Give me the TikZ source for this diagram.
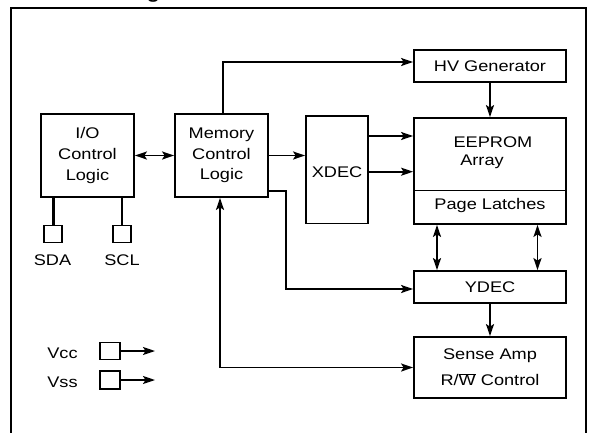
\documentclass[tikz,border=0pt]{standalone}
\usepackage{fontspec}
\setmainfont[FakeStretch=1.18]{Liberation Sans}
\usetikzlibrary{arrows.meta,calc}
\begin{document}
\begin{tikzpicture}[x=1pt,y=-1pt,
  blk/.style={draw, line width=1.8pt, inner sep=0pt, align=center,
    font=\fontsize{15.4}{20.6}\selectfont},
  pin/.style={draw, line width=1.7pt, inner sep=0pt, minimum width=18.5pt, minimum height=17pt},
  lbl/.style={inner sep=0pt, font=\fontsize{15.4}{20.6}\selectfont},
  tip/.tip={Stealth[length=12pt,width=8pt,inset=2.5pt]},
  arr/.style={line width=1.7pt, -tip},
  biarr/.style={line width=1.7pt, tip-tip},
  wire/.style={line width=1.7pt}]
\useasboundingbox (0,0) rectangle (589,432);
\clip (0,0) rectangle (589,432);
% title fragment
\node[font=\bfseries\fontsize{18}{20}\selectfont, anchor=base west, inner sep=0pt] (title) at (50,-1.5) {Block Diagram};
% frame
\draw[line width=2.4pt] (11,7.7) rectangle (586,460);
% blocks
\node[blk, minimum width=93pt, minimum height=83pt] (io) at (87.5,155.5) {I/O\\Control\\Logic};
\node[blk, minimum width=93pt, minimum height=83pt] (mem) at (221.5,155.5) {Memory\\Control\\Logic};
\node[blk, minimum width=152pt, minimum height=32pt] (hv) at (490,66) {HV Generator};
\node[blk, minimum width=62pt, minimum height=107.5pt] (xdec) at (337,169.75) {};
\node[lbl] (xdect) at (337,172) {XDEC};
\node[blk, minimum width=152pt, minimum height=106pt] (ee) at (490,171) {};
\draw[wire] (ee.west |- 0,190.5) -- (ee.east |- 0,190.5);
\node[lbl] (eet) at (493,142) {EEPROM};
\node[lbl] (arr) at (482,162) {Array};
\node[lbl] (pl) at (490,206) {Page Latches};
\node[blk, minimum width=152pt, minimum height=32pt] (ydec) at (490,287) {YDEC};
\node[blk, minimum width=152pt, minimum height=61pt, font=\fontsize{15.4}{26}\selectfont] (sense) at (490,367.5) {Sense Amp\\R/$\overline{\hbox{W}}$ Control};
% pins
\node[pin] (sda) at (53,234) {};
\node[pin] (scl) at (122,234) {};
\node[lbl] (sdal) at (52.5,260) {SDA};
\node[lbl] (scll) at (122,260) {SCL};
\draw[line width=3pt] (io.south -| sda) -- (sda.north);
\draw[wire] (io.south -| scl) -- (scl.north);
\node[pin, minimum width=20pt] (vcc) at (110,351) {};
\node[pin, minimum width=20pt, minimum height=18pt] (vss) at (110,380) {};
\node[lbl] (vccl) at (62.5,353.5) {Vcc};
\node[lbl] (vssl) at (62.5,382) {Vss};
\coordinate (vcce) at (155,351);
\coordinate (vsse) at (155,380);
\draw[arr] (vcc.east) -- (vcce);
\draw[arr] (vss.east) -- (vsse);
% connectors
\draw[biarr] (io.east) -- (mem.west);
\draw[arr] (mem.north -| 222.7,0) |- ($(hv.west)+(0,-4)$);
\draw[arr] (hv.south) -- (ee.north);
\draw[arr] (mem.east) -- (mem.east -| xdec.west);
\draw[arr] (xdec.east |- 0,136) -- (ee.west |- 0,136);
\draw[arr] (xdec.east |- 0,171.7) -- (ee.west |- 0,171.7);
\draw[arr] (mem.east |- 0,191) -- (286,191) |- (ydec.west |- 0,289);
\draw[biarr] (ee.south -| 437,0) -- (ydec.north -| 437,0);
\draw[biarr] (ee.south -| 537.5,0) -- (ydec.north -| 537.5,0);
\draw[arr] (ydec.south) -- (sense.north);
\draw[biarr] (mem.south -| 220,0) |- (sense.west);
\end{tikzpicture}
\end{document}
